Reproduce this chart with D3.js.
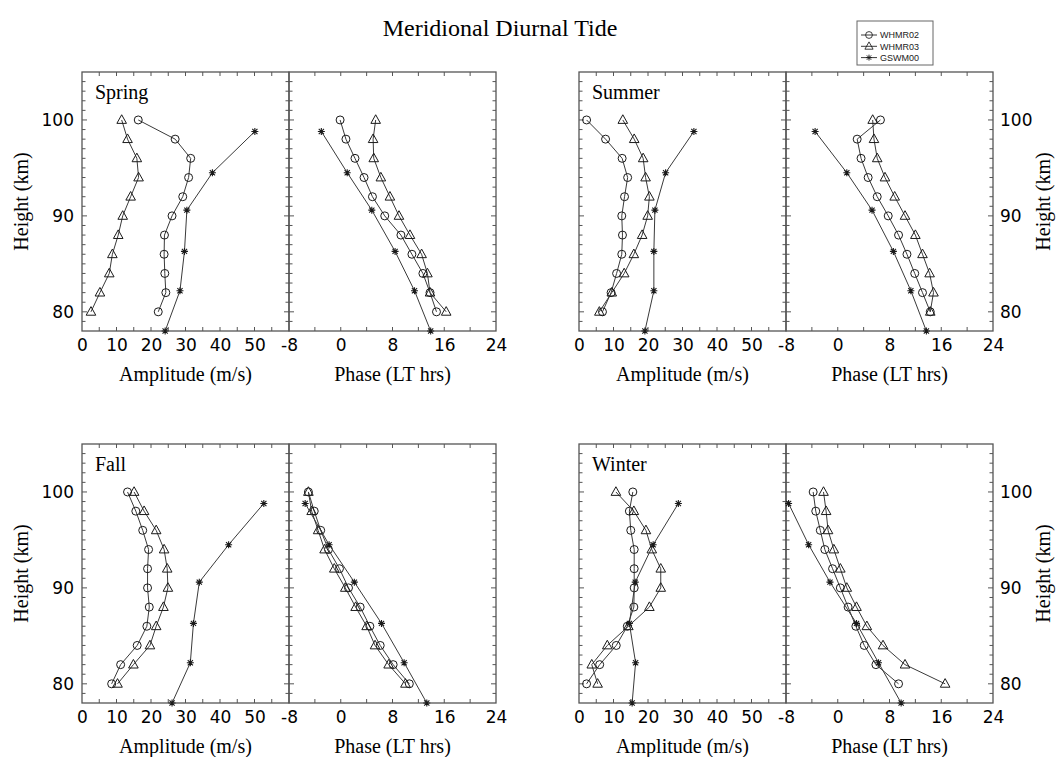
<!DOCTYPE html>
<html>
<head>
<meta charset="utf-8">
<script src="https://cdn.jsdelivr.net/npm/d3@7"></script>
<style>
  html, body { margin: 0; padding: 0; background: #fff; }
  svg { display: block; }
</style>
</head>
<body>
<svg id="chart" width="1064" height="757"></svg>
<script>
// ---------------- DATA ----------------
const chartTitle = "Meridional Diurnal Tide";
const seasons = ["Spring", "Summer", "Fall", "Winter"];
const seriesNames = ["WHMR02", "WHMR03", "GSWM00"];
const heights = [100, 98, 96, 94, 92, 90, 88, 86, 84, 82, 80];
const gswmHeights = [98.8, 94.5, 90.6, 86.3, 82.2, 78.0];

const ampTicks = [0, 10, 20, 30, 40, 50];
const phaseTicks = [-8, 0, 8, 16, 24];
const heightTicks = [80, 90, 100];

// Spring
const springAmp02 = [16.3, 27.0, 31.5, 30.9, 29.2, 26.1, 23.9, 23.8, 24.0, 24.3, 22.1];
const springAmp03 = [11.5, 13.2, 15.9, 16.4, 14.1, 11.8, 10.5, 8.8, 7.9, 5.2, 2.6];
const springAmpG  = [50.1, 37.8, 30.4, 29.7, 28.4, 24.1];
const springPh02  = [-0.1, 0.8, 2.2, 3.6, 4.9, 6.8, 9.3, 11.0, 12.7, 13.8, 14.8];
const springPh03  = [5.4, 5.0, 5.1, 6.2, 7.6, 9.0, 10.7, 12.5, 13.4, 13.8, 16.3];
const springPhG   = [-3.0, 1.0, 4.8, 8.4, 11.4, 13.9];
// Summer
const summerAmp02 = [2.2, 7.7, 12.5, 14.1, 13.2, 12.4, 12.6, 12.4, 10.9, 9.3, 6.8];
const summerAmp03 = [12.7, 16.0, 18.6, 19.3, 20.4, 19.9, 18.3, 15.9, 13.1, 9.5, 5.9];
const summerAmpG  = [33.3, 25.1, 22.0, 21.7, 21.7, 19.1];
const summerPh02  = [6.6, 3.0, 3.6, 4.7, 6.1, 7.8, 9.4, 10.7, 11.9, 13.1, 14.3];
const summerPh03  = [5.4, 5.6, 6.1, 7.3, 8.8, 10.4, 12.0, 13.1, 14.2, 14.8, 14.3];
const summerPhG   = [-3.5, 1.4, 5.3, 8.6, 11.3, 13.7];
// Fall
const fallAmp02 = [13.2, 15.6, 17.6, 19.3, 19.0, 19.0, 19.5, 18.8, 16.0, 11.2, 8.6];
const fallAmp03 = [15.1, 18.0, 21.5, 23.8, 24.7, 24.9, 23.6, 21.5, 19.7, 14.9, 10.3];
const fallAmpG  = [52.7, 42.5, 34.0, 32.3, 31.4, 26.1];
const fallPh02  = [-5.0, -4.1, -3.1, -1.9, -0.2, 1.2, 3.0, 4.5, 6.1, 8.1, 10.6];
const fallPh03  = [-5.0, -4.5, -3.5, -2.5, -1.0, 0.7, 2.3, 4.0, 5.3, 7.4, 10.0];
const fallPhG   = [-5.5, -1.8, 2.1, 6.3, 9.8, 13.3];
// Winter
const winterAmp02 = [15.6, 14.6, 15.0, 16.0, 16.0, 16.0, 15.9, 14.0, 10.8, 6.0, 2.2];
const winterAmp03 = [10.7, 15.9, 19.4, 21.1, 23.7, 23.7, 20.4, 14.3, 8.2, 3.7, 5.4];
const winterAmpG  = [28.8, 21.5, 16.3, 14.6, 16.4, 15.4];
const winterPh02  = [-3.8, -3.4, -2.7, -2.0, -0.8, 0.4, 1.6, 2.8, 4.1, 5.9, 9.4];
const winterPh03  = [-2.2, -1.8, -1.5, -0.6, 0.4, 1.4, 2.9, 4.5, 7.0, 10.4, 16.6];
const winterPhG   = [-7.6, -4.5, -1.2, 2.9, 6.3, 9.8];

// ---------------- LAYOUT ----------------
const W = 1064, H = 757;
const svg = d3.select("#chart");
svg.append("rect").attr("width", W).attr("height", H).attr("fill", "#fff");

const colX = [82, 579];        // left edge of amplitude panel per column
const panelW = 207;            // width of each sub-panel
const rowY = [72, 444];        // top of panels per row
const panelH = 259;

const tickFont = "'DejaVu Sans', sans-serif";
const serif = "'Liberation Serif', 'Times New Roman', serif";
const borderColor = "#555";
const lineColor = "#3a3a3a";
const markColor = "#1a1a1a";

const seasonData = {
  Spring: [springAmp02, springAmp03, springAmpG, springPh02, springPh03, springPhG],
  Summer: [summerAmp02, summerAmp03, summerAmpG, summerPh02, summerPh03, summerPhG],
  Fall:   [fallAmp02, fallAmp03, fallAmpG, fallPh02, fallPh03, fallPhG],
  Winter: [winterAmp02, winterAmp03, winterAmpG, winterPh02, winterPh03, winterPhG]
};

// marker drawing
function drawMarker(sel, type) {
  if (type === 0) {
    sel.append("circle").attr("r", 4).attr("fill", "none")
      .attr("stroke", markColor).attr("stroke-width", 1);
  } else if (type === 1) {
    sel.append("path").attr("d", "M0,-5.2L4.8,3.4L-4.8,3.4Z").attr("fill", "none")
      .attr("stroke", markColor).attr("stroke-width", 1);
  } else {
    sel.append("path").attr("d", "M-3.5,0H3.5M0,-3.5V3.5M-2.6,-2.6L2.6,2.6M-2.6,2.6L2.6,-2.6")
      .attr("fill", "none").attr("stroke", markColor).attr("stroke-width", 1.1);
  }
}

function drawSeries(g, xs, ys, vals, hts, type) {
  const pts = vals.map((v, i) => [xs(v), ys(hts[i])]);
  g.append("path").attr("d", d3.line()(pts)).attr("fill", "none")
    .attr("stroke", lineColor).attr("stroke-width", 1);
  pts.forEach(p => {
    const m = g.append("g").attr("transform", `translate(${p[0]},${p[1]})`);
    drawMarker(m, type);
  });
}

function frame(g, x0, y0, x1, y1, xs, ys, minorX) {
  const tk = g.append("g").attr("stroke", borderColor).attr("stroke-width", 1);
  minorX.forEach(v => {
    const x = xs(v);
    tk.append("line").attr("x1", x).attr("x2", x).attr("y1", y0).attr("y2", y0 + 4);
    tk.append("line").attr("x1", x).attr("x2", x).attr("y1", y1).attr("y2", y1 - 4);
  });
  d3.range(79, 105).forEach(h => {
    const y = ys(h);
    const len = heightTicks.includes(h) ? 5 : 3.5;
    tk.append("line").attr("x1", x0).attr("x2", x0 + len).attr("y1", y).attr("y2", y);
    tk.append("line").attr("x1", x1).attr("x2", x1 - len).attr("y1", y).attr("y2", y);
  });
  g.append("rect").attr("x", x0).attr("y", y0).attr("width", x1 - x0).attr("height", y1 - y0)
    .attr("fill", "none").attr("stroke", borderColor).attr("stroke-width", 1.3);
}

seasons.forEach((s, si) => {
  const col = si % 2, row = Math.floor(si / 2);
  const ax0 = colX[col], ax1 = ax0 + panelW, px1 = ax1 + panelW;
  const y0 = rowY[row], y1 = y0 + panelH;
  const ys = d3.scaleLinear().domain([78, 105]).range([y1, y0]);
  const xa = d3.scaleLinear().domain([0, 60]).range([ax0, ax1]);
  const xp = d3.scaleLinear().domain([-8, 24]).range([ax1, px1]);
  const g = svg.append("g");
  const [a02, a03, aG, p02, p03, pG] = seasonData[s];

  frame(g, ax0, y0, ax1, y1, xa, ys, d3.range(5, 60, 5));
  frame(g, ax1, y0, px1, y1, xp, ys, d3.range(-4, 24, 4));

  drawSeries(g, xa, ys, a02, heights, 0);
  drawSeries(g, xa, ys, a03, heights, 1);
  drawSeries(g, xa, ys, aG, gswmHeights, 2);
  drawSeries(g, xp, ys, p02, heights, 0);
  drawSeries(g, xp, ys, p03, heights, 1);
  drawSeries(g, xp, ys, pG, gswmHeights, 2);

  // x tick labels
  const labA = d3.axisBottom(xa).tickValues(ampTicks).tickSize(0).tickPadding(8);
  const la = g.append("g").attr("transform", `translate(0,${y1})`).call(labA);
  const labP = d3.axisBottom(xp).tickValues(phaseTicks).tickSize(0).tickPadding(8)
    .tickFormat(d => d < 0 ? "-" + Math.abs(d) : d);
  const lp = g.append("g").attr("transform", `translate(0,${y1})`).call(labP);
  [la, lp].forEach(a => {
    a.select(".domain").remove();
    a.selectAll("text").attr("font-family", tickFont).attr("font-size", 17).attr("fill", "#000");
  });

  // y tick labels
  if (col === 0) {
    const ay = g.append("g").attr("transform", `translate(${ax0},0)`)
      .call(d3.axisLeft(ys).tickValues(heightTicks).tickSize(0).tickPadding(8));
    ay.select(".domain").remove();
    ay.selectAll("text").attr("font-family", tickFont).attr("font-size", 17).attr("fill", "#000");
    g.append("text").attr("transform", `translate(28,${(y0 + y1) / 2}) rotate(-90)`)
      .attr("text-anchor", "middle").attr("font-family", serif).attr("font-size", 20)
      .text("Height (km)");
  } else {
    const ay = g.append("g").attr("transform", `translate(${px1},0)`)
      .call(d3.axisRight(ys).tickValues(heightTicks).tickSize(0).tickPadding(7));
    ay.select(".domain").remove();
    ay.selectAll("text").attr("font-family", tickFont).attr("font-size", 17).attr("fill", "#000");
    g.append("text").attr("transform", `translate(1050,${(y0 + y1) / 2}) rotate(-90)`)
      .attr("text-anchor", "middle").attr("font-family", serif).attr("font-size", 20)
      .text("Height (km)");
  }

  // axis titles
  g.append("text").attr("x", (ax0 + ax1) / 2).attr("y", y1 + 50).attr("text-anchor", "middle")
    .attr("font-family", serif).attr("font-size", 20).text("Amplitude (m/s)");
  g.append("text").attr("x", (ax1 + px1) / 2).attr("y", y1 + 50).attr("text-anchor", "middle")
    .attr("font-family", serif).attr("font-size", 20).text("Phase (LT hrs)");

  // season label
  g.append("text").attr("x", ax0 + 13).attr("y", y0 + 27)
    .attr("font-family", serif).attr("font-size", 20).text(s);
});

// title
svg.append("text").attr("x", 500).attr("y", 36).attr("text-anchor", "middle")
  .attr("font-family", serif).attr("font-size", 24).text(chartTitle);

// legend
const lg = svg.append("g");
lg.append("rect").attr("x", 857).attr("y", 21).attr("width", 76).attr("height", 44)
  .attr("fill", "#fff").attr("stroke", "#666").attr("stroke-width", 1);
seriesNames.forEach((n, i) => {
  const y = 35 + i * 11.3;
  lg.append("line").attr("x1", 861).attr("x2", 877).attr("y1", y).attr("y2", y)
    .attr("stroke", lineColor).attr("stroke-width", 1);
  const m = lg.append("g").attr("transform", `translate(869,${y}) scale(0.85)`);
  drawMarker(m, i);
  lg.append("text").attr("x", 880).attr("y", y + 3.3).attr("font-family", "'Liberation Sans', Arial, sans-serif")
    .attr("font-size", 9).attr("fill", "#222").text(n);
});
</script>
</body>
</html>
